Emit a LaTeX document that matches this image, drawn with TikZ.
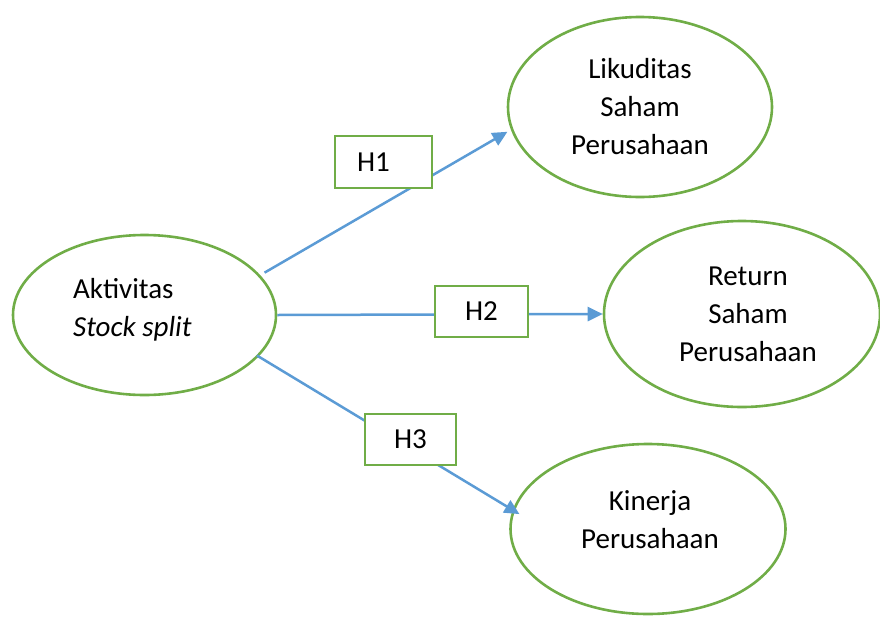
\documentclass[tikz,border=0pt]{standalone}
\usepackage{fontspec}
\setmainfont{Carlito}
\usetikzlibrary{shapes.geometric,arrows.meta}
\definecolor{grn}{HTML}{70AD47}
\definecolor{blu}{HTML}{5B9BD5}
\begin{document}
\begin{tikzpicture}[x=1pt,y=-1pt,
 oval/.style={ellipse,draw=grn,line width=2.6pt,inner sep=0pt},
 hbox/.style={rectangle,draw=grn,line width=2.6pt,fill=white,inner sep=0pt,font=\fontsize{29}{38}\selectfont},
 txt/.style={font=\fontsize{29}{38}\selectfont,inner sep=0pt},
 link/.style={draw=blu,line width=2.5pt,-{Triangle[length=15pt,width=14pt]}}]
\useasboundingbox (0,0) rectangle (880,616);
\node[oval,minimum width=263pt,minimum height=160pt] (L) at (144.5,315) {};
\node[oval,minimum width=264pt,minimum height=180pt] (T) at (640,107) {};
\node[oval,minimum width=276pt,minimum height=186pt] (M) at (742,314) {};
\node[oval,minimum width=275pt,minimum height=170pt] (B) at (648,529) {};
\node[txt,align=left,anchor=west] (Lt) at (73,310) {Aktivitas\\\textit{Stock split}};
\node[txt,align=center] (Tt) at (640,107) {Likuditas\\Saham\\Perusahaan};
\node[txt,align=center] (Mt) at (748,314) {Return\\Saham\\Perusahaan};
\node[txt,align=center] (Bt) at (650,520) {Kinerja\\Perusahaan};
\draw[link,shorten <=5pt,shorten >=4pt] (L.19.3) -- (T.190);
\draw[link] (L.east) -- (M.west);
\draw[link,shorten <=-2pt,shorten >=-8pt] (L.340) -- (B.172.3);
\node[hbox,minimum width=97pt,minimum height=52pt] (H1) at (383.5,162) {\makebox[53pt][l]{H1}};
\node[hbox,minimum width=93pt,minimum height=51pt] (H2) at (481.5,311.5) {H2};
\node[hbox,minimum width=91pt,minimum height=51pt] (H3) at (410.5,439.5) {H3};
\end{tikzpicture}
\end{document}
